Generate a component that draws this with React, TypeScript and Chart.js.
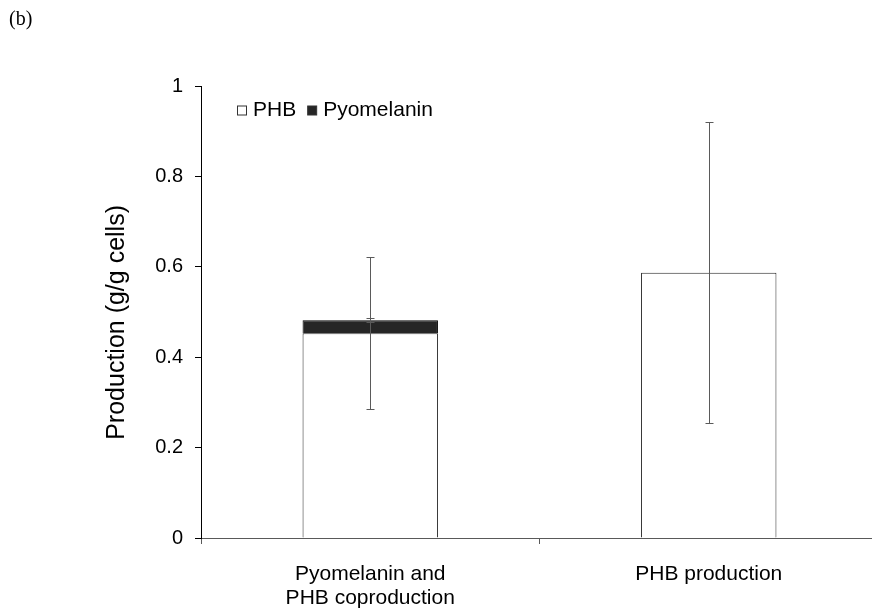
import React, { useEffect, useRef } from 'react';
import { Chart, registerables } from 'chart.js';

Chart.register(...registerables);

const panelLabel = '(b)';
const categories: (string | string[])[] = [['Pyomelanin and', 'PHB coproduction'], 'PHB production'];
const seriesNames = ['PHB', 'Pyomelanin'];
const phbValues = [0.453, 0.587];
const phbErrors = [0.168, 0.333];
const pyomelaninValues: (number | null)[] = [0.029, null];
const pyomelaninErrors: (number | null)[] = [0.004, null];
const yTicks = [0, 0.2, 0.4, 0.6, 0.8, 1];
const yTitle = 'Production (g/g cells)';

const FONT = '"Liberation Sans", Arial, Helvetica, sans-serif';
const SERIF = '"Liberation Serif", "Times New Roman", serif';

const errorBarPlugin = {
  id: 'errorBars',
  afterDatasetsDraw(chart: any) {
    const { ctx } = chart;
    const x = chart.scales.x;
    const y = chart.scales.y;
    ctx.save();
    ctx.strokeStyle = '#5a5a5a';
    ctx.lineWidth = 1;
    const draw = (cx: number, lo: number, hi: number) => {
      const px = Math.round(cx) + 0.5;
      const yl = Math.round(y.getPixelForValue(lo)) + 0.5;
      const yh = Math.round(y.getPixelForValue(hi)) + 0.5;
      ctx.beginPath();
      ctx.moveTo(px, yl);
      ctx.lineTo(px, yh);
      ctx.moveTo(px - 4, yl);
      ctx.lineTo(px + 4, yl);
      ctx.moveTo(px - 4, yh);
      ctx.lineTo(px + 4, yh);
      ctx.stroke();
    };
    categories.forEach((_, i) => {
      const cx = x.getPixelForValue(i);
      const phb = phbValues[i];
      const pe = phbErrors[i];
      if (phb != null && pe != null) draw(cx, phb - pe, phb + pe);
      const pyo = pyomelaninValues[i];
      const ye = pyomelaninErrors[i];
      if (pyo != null && ye) {
        const top = phb + pyo;
        draw(cx, top - ye, top + ye);
      }
    });
    ctx.restore();
  },
};

const legendPlugin = {
  id: 'insideLegend',
  afterDraw(chart: any) {
    const { ctx, chartArea } = chart;
    ctx.save();
    ctx.font = `21px ${FONT}`;
    ctx.textBaseline = 'middle';
    ctx.textAlign = 'left';
    let cx = chartArea.left + 36;
    const cy = chartArea.top + 24;
    chart.data.datasets.forEach((ds: any) => {
      const size = 9;
      ctx.fillStyle = ds.backgroundColor;
      ctx.fillRect(cx + 0.5, cy - size / 2 + 0.5, size, size);
      ctx.strokeStyle = '#333';
      ctx.lineWidth = 1;
      ctx.strokeRect(cx + 0.5, cy - size / 2 + 0.5, size, size);
      ctx.fillStyle = '#000';
      const tx = cx + size + 7;
      ctx.fillText(ds.label, tx, cy);
      cx = tx + ctx.measureText(ds.label).width + 11;
    });
    ctx.restore();
  },
};

const panelLabelPlugin = {
  id: 'panelLabel',
  afterDraw(chart: any) {
    const { ctx } = chart;
    ctx.save();
    ctx.font = `20px ${SERIF}`;
    ctx.fillStyle = '#000';
    ctx.textBaseline = 'alphabetic';
    ctx.textAlign = 'left';
    ctx.fillText(panelLabel, 9, 25);
    ctx.restore();
  },
};

export default function App() {
  const ref = useRef<HTMLCanvasElement>(null);

  useEffect(() => {
    const canvas = ref.current;
    if (!canvas) return;
    const chart = new Chart(canvas, {
      type: 'bar',
      data: {
        labels: categories as any,
        datasets: [
          {
            label: seriesNames[0],
            data: phbValues,
            backgroundColor: '#ffffff',
            borderColor: '#262626',
            borderWidth: 1,
            barPercentage: 0.4,
            categoryPercentage: 1,
            stack: 's',
          },
          {
            label: seriesNames[1],
            data: pyomelaninValues,
            backgroundColor: '#262626',
            borderColor: '#000000',
            borderWidth: 1,
            barPercentage: 0.4,
            categoryPercentage: 1,
            stack: 's',
          },
        ],
      },
      options: {
        responsive: false,
        animation: false,
        devicePixelRatio: 1,
        layout: { padding: { left: 102, top: 86, right: 2, bottom: 0 } },
        plugins: { legend: { display: false }, tooltip: { enabled: false } },
        scales: {
          x: {
            stacked: true,
            grid: {
              display: true,
              drawOnChartArea: false,
              offset: true,
              tickLength: 6,
              color: '#595959',
            },
            border: { color: '#595959' },
            ticks: {
              color: '#000',
              font: { family: FONT, size: 21, lineHeight: 1.15 },
              padding: 18,
              maxRotation: 0,
              autoSkip: false,
            },
            afterFit: (s: any) => {
              s.height = 70;
            },
          },
          y: {
            stacked: true,
            min: 0,
            max: 1,
            afterBuildTicks: (s: any) => {
              s.ticks = yTicks.map((v) => ({ value: v }));
            },
            grid: { drawOnChartArea: false, tickLength: 6, color: '#000' },
            border: { color: '#000' },
            ticks: {
              color: '#000',
              font: { family: FONT, size: 20 },
              padding: 12,
              callback: (v: any) => String(Math.round(Number(v) * 10) / 10),
            },
            title: {
              display: true,
              text: yTitle + '   ',
              color: '#000',
              font: { family: FONT, size: 25, lineHeight: 1.2 },
              padding: 0,
            },
            afterFit: (s: any) => {
              s.width = 99;
            },
          },
        },
      } as any,
      plugins: [errorBarPlugin, legendPlugin, panelLabelPlugin],
    });
    return () => chart.destroy();
  }, []);

  return (
    <div
      style={{
        position: 'fixed',
        left: 0,
        top: 0,
        width: 880,
        height: 608,
        overflow: 'hidden',
        background: '#fff',
      }}
    >
      <canvas ref={ref} width={880} height={608} style={{ display: 'block' }} />
    </div>
  );
}
